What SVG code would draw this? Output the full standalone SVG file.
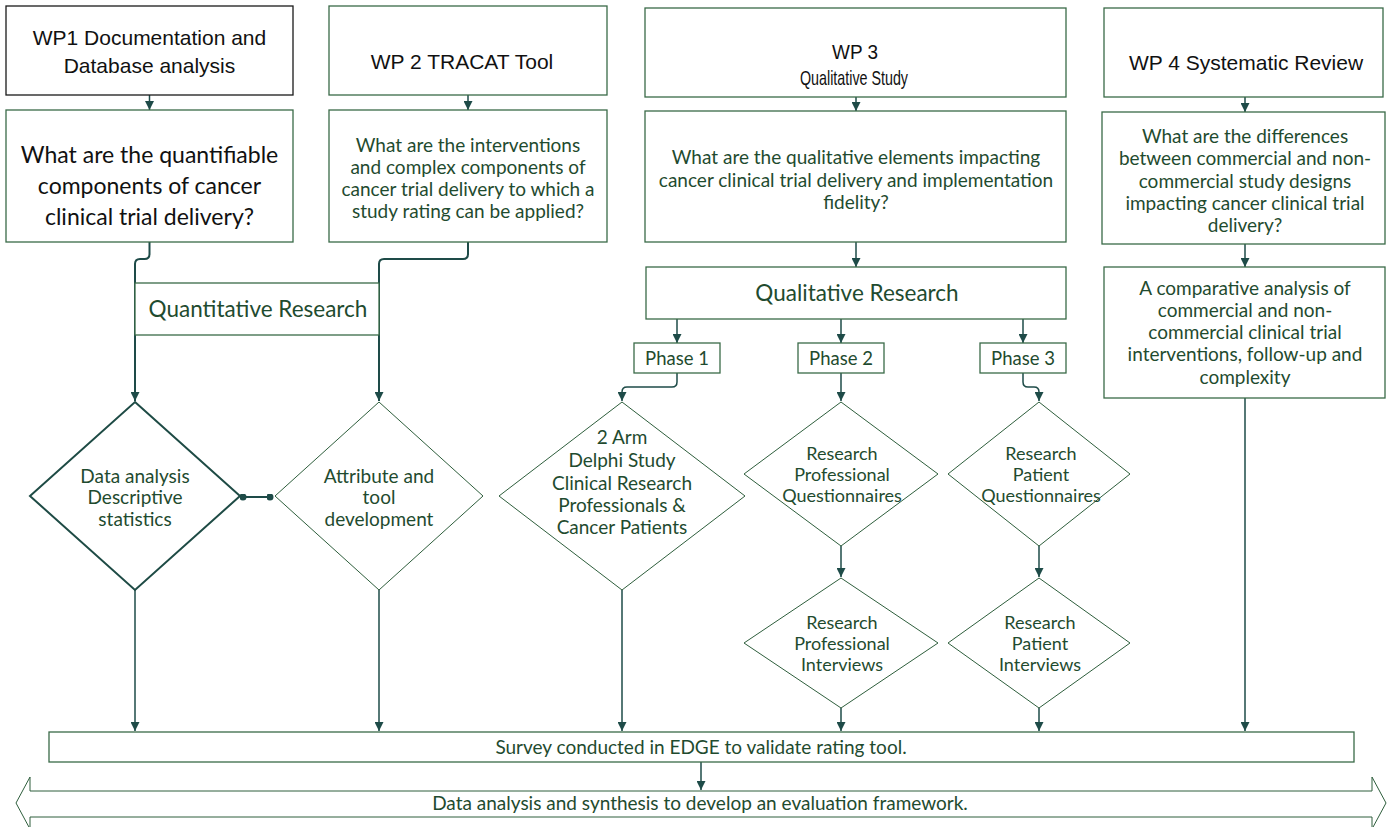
<svg xmlns="http://www.w3.org/2000/svg" width="1393" height="827" viewBox="0 0 1393 827">
<defs>
<marker id="ah" viewBox="0 0 10 10" refX="10" refY="5" markerWidth="9" markerHeight="9" markerUnits="userSpaceOnUse" orient="auto">
<path d="M0,0 L10,5 L0,10 z" fill="#1e4b48"/>
</marker>
<marker id="dot" viewBox="0 0 10 10" refX="5" refY="5" markerWidth="7" markerHeight="7" markerUnits="userSpaceOnUse">
<circle cx="5" cy="5" r="5" fill="#1e4b48"/>
</marker>
</defs>
<style>
.box{fill:#fff;stroke:#3a6a48;stroke-width:1.3}
.bbox{fill:#fff;stroke:#1a1a1a;stroke-width:1.3}
.dia{fill:#fff;stroke:#2e5e3c;stroke-width:1}
.diat{fill:#fff;stroke:#1e4b45;stroke-width:2}
.con{fill:none;stroke:#1e4b48;stroke-width:1.5;marker-end:url(#ah)}
.conb{fill:none;stroke:#1e4b48;stroke-width:2;marker-end:url(#ah)}
.wp{font-family:"Liberation Sans",Arial,sans-serif;font-size:21px;fill:#111;text-anchor:middle}
.t{font-family:Lato,"Open Sans",sans-serif;font-size:19px;fill:#1f4b2f;text-anchor:middle}
.ts{font-family:Lato,"Open Sans",sans-serif;font-size:18px;fill:#1f4b2f;text-anchor:middle}
.tb{font-family:Lato,"Open Sans",sans-serif;font-size:23px;fill:#111;text-anchor:middle}
.tl{font-family:Lato,"Open Sans",sans-serif;font-size:22.5px;fill:#1f4b2f;text-anchor:middle}
.tp{font-family:Lato,"Open Sans",sans-serif;font-size:18.5px;fill:#1f4b2f;text-anchor:middle}
</style>

<g id="connectors">
<line class="con" x1="149.5" y1="95" x2="149.5" y2="110"/>
<line class="con" x1="468" y1="95" x2="468" y2="110"/>
<line class="con" x1="856" y1="97" x2="856" y2="111"/>
<line class="con" x1="1245" y1="97" x2="1245" y2="112"/>
<path class="conb" d="M149.5,242 V254 Q149.5,259 144.5,259 H140 Q135,259 135,264 V401"/>
<path class="conb" d="M468,242 V254 Q468,259 463,259 H384 Q379,259 379,264 V401"/>
<line class="con" x1="856" y1="242" x2="856" y2="267"/>
<line class="con" x1="677" y1="319" x2="677" y2="343"/>
<line class="con" x1="841" y1="319" x2="841" y2="343"/>
<line class="con" x1="1023" y1="319" x2="1023" y2="343"/>
<path class="con" d="M677,373 V382 Q677,387 672,387 H627 Q622,387 622,392 V401"/>
<line class="con" x1="841" y1="373" x2="841" y2="401"/>
<path class="con" d="M1023,373 V382 Q1023,387 1028,387 H1034 Q1039,387 1039,392 V401"/>
<line class="con" x1="841" y1="546" x2="841" y2="577"/>
<line class="con" x1="1039" y1="546" x2="1039" y2="577"/>
<line class="con" x1="1245" y1="244" x2="1245" y2="267"/>
<line class="con" x1="1245" y1="398" x2="1245" y2="731"/>
<line class="con" x1="135" y1="590" x2="135" y2="731"/>
<line class="con" x1="379" y1="590" x2="379" y2="731"/>
<line class="con" x1="622" y1="590" x2="622" y2="731"/>
<line class="con" x1="841" y1="708" x2="841" y2="731"/>
<line class="con" x1="1039" y1="708" x2="1039" y2="731"/>
<line class="con" x1="701" y1="762" x2="701" y2="790"/>
<line x1="243" y1="497" x2="270" y2="497" stroke="#1e4b48" stroke-width="2" marker-start="url(#dot)" marker-end="url(#dot)"/>
</g>

<g id="wp1"><rect class="bbox" x="6" y="6" width="287" height="89"/>
<text class="wp" x="149.5" y="45">WP1 Documentation and</text>
<text class="wp" x="149.5" y="73">Database analysis</text></g>
<g id="wp2"><rect class="box" x="329" y="6" width="278" height="89"/>
<text class="wp" x="462" y="69" font-size="22.5">WP 2 TRACAT Tool</text></g>
<g id="wp3"><rect class="box" x="645" y="8" width="421" height="89"/>
<text class="wp" x="855" y="59" font-size="20" textLength="46" lengthAdjust="spacingAndGlyphs">WP 3</text>
<text class="wp" x="854" y="85" font-size="21" textLength="108" lengthAdjust="spacingAndGlyphs">Qualitative Study</text></g>
<g id="wp4"><rect class="box" x="1104" y="8" width="279" height="89"/>
<text class="wp" x="1246" y="70">WP 4 Systematic Review</text></g>

<g id="q1"><rect class="box" x="6" y="110" width="287" height="132"/>
<text class="tb" x="149.5" y="163">What are the quantifiable</text>
<text class="tb" x="149.5" y="194">components of cancer</text>
<text class="tb" x="149.5" y="225">clinical trial delivery?</text></g>
<g id="q2"><rect class="box" x="329" y="110" width="278" height="132"/>
<text class="t" x="468" y="152" font-size="18.5">What are the interventions</text>
<text class="t" x="468" y="174" font-size="18.5">and complex components of</text>
<text class="t" x="468" y="196" font-size="18.5">cancer trial delivery to which a</text>
<text class="t" x="468" y="218" font-size="18.5">study rating can be applied?</text></g>
<g id="q3"><rect class="box" x="645" y="111" width="421" height="131"/>
<text class="t" x="856" y="164">What are the qualitative elements impacting</text>
<text class="t" x="856" y="187">cancer clinical trial delivery and implementation</text>
<text class="t" x="856" y="209">fidelity?</text></g>
<g id="q4"><rect class="box" x="1102" y="112" width="283" height="132"/>
<text class="t" x="1245" y="143">What are the differences</text>
<text class="t" x="1245" y="165">between commercial and non-</text>
<text class="t" x="1245" y="188">commercial study designs</text>
<text class="t" x="1245" y="210">impacting cancer clinical trial</text>
<text class="t" x="1245" y="232">delivery?</text></g>

<g id="quant"><rect class="box" x="135" y="283" width="244" height="52"/>
<text class="tl" x="258" y="317">Quantitative Research</text></g>
<g id="qual"><rect class="box" x="646" y="267" width="420" height="52"/>
<text class="tl" x="857" y="301">Qualitative Research</text></g>

<g id="phase1"><rect class="box" x="634" y="343" width="86" height="30"/>
<text class="tp" x="677" y="365">Phase 1</text></g>
<g id="phase2"><rect class="box" x="798" y="343" width="86" height="30"/>
<text class="tp" x="841" y="365">Phase 2</text></g>
<g id="phase3"><rect class="box" x="980" y="343" width="86" height="30"/>
<text class="tp" x="1023" y="365">Phase 3</text></g>

<g id="wp4b"><rect class="box" x="1104" y="267" width="281" height="131"/>
<text class="t" x="1245" y="295">A comparative analysis of</text>
<text class="t" x="1245" y="317">commercial and non-</text>
<text class="t" x="1245" y="339">commercial clinical trial</text>
<text class="t" x="1245" y="361">interventions, follow-up and</text>
<text class="t" x="1245" y="384">complexity</text></g>

<g id="d1"><polygon class="diat" points="135,402 240,496 135,590 30,496"/>
<text class="t" x="135" y="483">Data analysis</text>
<text class="t" x="135" y="504">Descriptive</text>
<text class="t" x="135" y="526">statistics</text></g>
<g id="d2"><polygon class="dia" points="379,402 483,496 379,590 275,496"/>
<text class="t" x="379" y="483">Attribute and</text>
<text class="t" x="379" y="504">tool</text>
<text class="t" x="379" y="526">development</text></g>
<g id="d3"><polygon class="dia" points="622,402 745,496 622,590 499,496"/>
<text class="t" x="622" y="444">2 Arm</text>
<text class="t" x="622" y="467">Delphi Study</text>
<text class="t" x="622" y="490">Clinical Research</text>
<text class="t" x="622" y="512">Professionals &amp;</text>
<text class="t" x="622" y="534">Cancer Patients</text></g>
<g id="d4"><polygon class="dia" points="841,402 938,474 841,546 744,474"/>
<text class="ts" x="842" y="460">Research</text>
<text class="ts" x="842" y="481">Professional</text>
<text class="ts" x="842" y="502">Questionnaires</text></g>
<g id="d5"><polygon class="dia" points="1039,402 1130,474 1039,546 948,474"/>
<text class="ts" x="1041" y="460">Research</text>
<text class="ts" x="1041" y="481">Patient</text>
<text class="ts" x="1041" y="502">Questionnaires</text></g>
<g id="d6"><polygon class="dia" points="841,578 938,643 841,708 744,643"/>
<text class="ts" x="842" y="629">Research</text>
<text class="ts" x="842" y="650">Professional</text>
<text class="ts" x="842" y="671">Interviews</text></g>
<g id="d7"><polygon class="dia" points="1039,578 1130,643 1039,708 948,643"/>
<text class="ts" x="1040" y="629">Research</text>
<text class="ts" x="1040" y="650">Patient</text>
<text class="ts" x="1040" y="671">Interviews</text></g>

<g id="survey"><rect class="box" x="49" y="732" width="1305" height="30"/>
<text class="t" x="701" y="754">Survey conducted in EDGE to validate rating tool.</text></g>
<g id="synth"><polygon class="dia" stroke-width="1.3" points="16,803 30,777 30,791 1372,791 1372,777 1386,803 1372,829 1372,817 30,817 30,829"/>
<text class="t" x="700" y="810">Data analysis and synthesis to develop an evaluation framework.</text></g>
</svg>
